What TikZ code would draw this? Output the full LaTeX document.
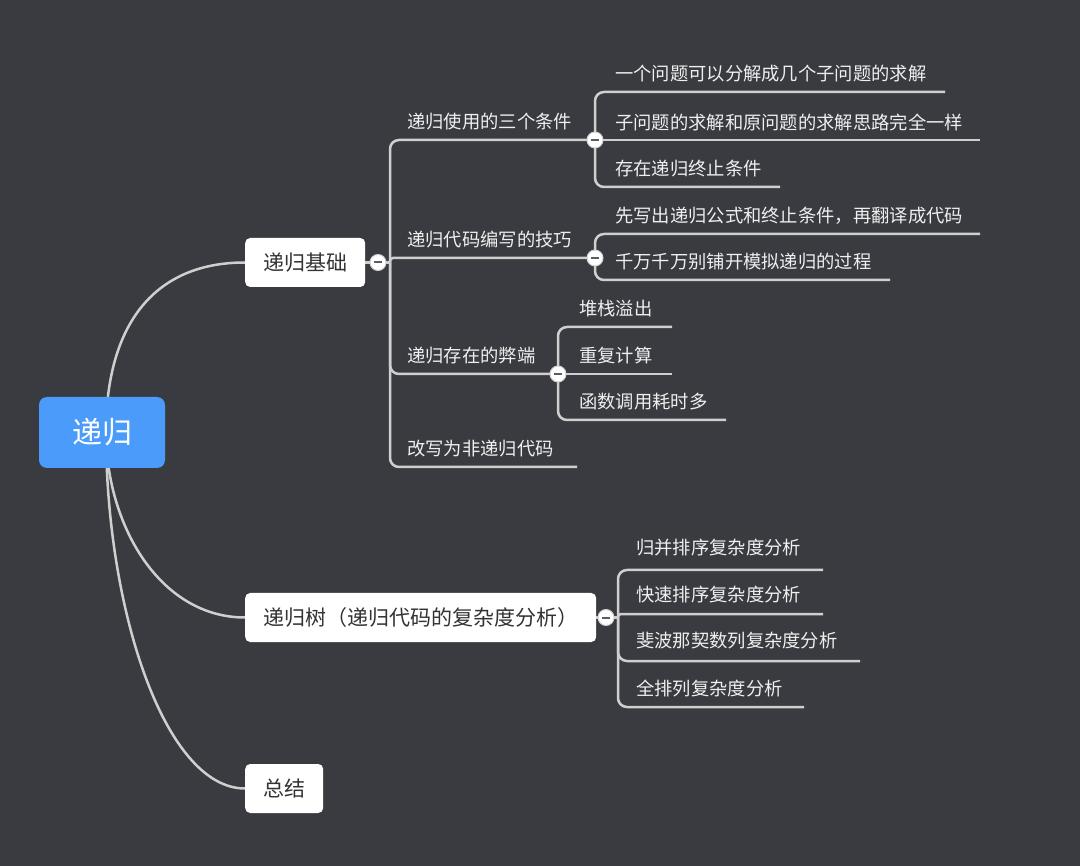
\documentclass[tikz,border=0pt]{standalone}
\usepackage{fontspec}
\setmainfont{Noto Sans CJK SC}
\definecolor{bg}{HTML}{393B40}
\definecolor{rootblue}{HTML}{4A9BFA}
\definecolor{linec}{HTML}{CFCFCF}
\definecolor{subtxt}{HTML}{EFEFEF}
\definecolor{maintxt}{HTML}{333333}
\definecolor{minusc}{HTML}{5A5C60}
\tikzset{
 conn/.style={draw=linec, line width=2.5pt},
 tline/.style={draw=linec, line width=2.5pt, rounded corners=9pt},
 rootbox/.style={fill=rootblue, rounded corners=8pt, minimum width=126pt, minimum height=71pt, text=white, font=\fontsize{30}{32}\selectfont, inner sep=0pt},
 mainbox/.style={fill=white, rounded corners=5pt, minimum height=49pt, text=maintxt, font=\fontsize{21}{23}\selectfont, anchor=west, inner ysep=0pt, inner xsep=18pt},
 leaf/.style={text=subtxt, font=\fontsize{18.3}{20}\selectfont, anchor=west, inner sep=0pt},
 fold/.style={circle, fill=white, draw=linec, line width=1pt, minimum size=16pt, inner sep=0pt},
 minus/.style={draw=minusc, line width=2pt},
}
\begin{document}
\begin{tikzpicture}[x=1pt,y=-1pt]
\fill[bg] (0,0) rectangle (1080,866);
\useasboundingbox (0,0) rectangle (1080,866);

% root and main topics
\coordinate (rs) at (106,432);
\coordinate (m1w) at (245,262.5);
\coordinate (m2w) at (245,617.5);
\coordinate (m3w) at (245,788.5);
\draw[conn] (rs) .. controls (106,330) and (150,262.5) .. (m1w);
\draw[conn] (rs) .. controls (106,525) and (160,617.5) .. (m2w);
\draw[conn] (rs) .. controls (106,610) and (165,788.5) .. (m3w);

\node[rootbox] (root) at (102,432.5) {递归};
\node[mainbox] (m1) at (m1w) {递归基础};
\node[mainbox] (m2) at (m2w) {递归树（递归代码的复杂度分析）};
\node[mainbox] (m3) at (m3w) {总结};

% ---------- branch 1 ----------
\coordinate (f1) at (378,262.5);
\coordinate (j1) at (390,262.5);
\coordinate (e11) at (595,140);
\coordinate (e12) at (595,258);
\coordinate (e13) at (558,374);
\coordinate (e14) at (577,467);
\draw[conn] (m1.east) -- (j1);
\draw[tline] (j1) |- (e11);
\draw[tline, rounded corners=3pt] (j1) |- (e12);
\draw[tline] (j1) |- (e13);
\draw[tline] (j1) |- (e14);
\node[leaf] (s11) at (407,122) {递归使用的三个条件};
\node[leaf] (s12) at (407,240) {递归代码编写的技巧};
\node[leaf] (s13) at (407,356) {递归存在的弊端};
\node[leaf] (s14) at (407,449) {改写为非递归代码};

% sub 1.1
\coordinate (e111) at (945,92);
\coordinate (e112) at (980,140);
\coordinate (e113) at (780,187);
\draw[tline] (e11) |- (e111);
\draw[conn] (e11) -- (e112);
\draw[tline] (e11) |- (e113);
\node[leaf] (t111) at (615,74) {一个问题可以分解成几个子问题的求解};
\node[leaf] (t112) at (615,122) {子问题的求解和原问题的求解思路完全一样};
\node[leaf] (t113) at (615,169) {存在递归终止条件};

% sub 1.2
\coordinate (e121) at (980,234);
\coordinate (e122) at (890,280);
\draw[tline] (e12) |- (e121);
\draw[tline] (e12) |- (e122);
\node[leaf] (t121) at (615,216) {先写出递归公式和终止条件，再翻译成代码};
\node[leaf] (t122) at (615,262) {千万千万别铺开模拟递归的过程};

% sub 1.3
\coordinate (e131) at (672,327);
\coordinate (e132) at (672,374);
\coordinate (e133) at (726,420);
\draw[tline] (e13) |- (e131);
\draw[conn] (e13) -- (e132);
\draw[tline] (e13) |- (e133);
\node[leaf] (t131) at (579,309) {堆栈溢出};
\node[leaf] (t132) at (579,356) {重复计算};
\node[leaf] (t133) at (579,402) {函数调用耗时多};

% ---------- branch 2 ----------
\coordinate (f2) at (606,617.5);
\coordinate (j2) at (618,617.5);
\coordinate (e21) at (823,570);
\coordinate (e22) at (823,614);
\coordinate (e23) at (860,661);
\coordinate (e24) at (804,707);
\draw[conn] (m2.east) -- (j2);
\draw[tline] (j2) |- (e21);
\draw[tline, rounded corners=3pt] (j2) |- (e22);
\draw[tline] (j2) |- (e23);
\draw[tline] (j2) |- (e24);
\node[leaf] (t21) at (636,548) {归并排序复杂度分析};
\node[leaf] (t22) at (636,595) {快速排序复杂度分析};
\node[leaf] (t23) at (636,641) {斐波那契数列复杂度分析};
\node[leaf] (t24) at (636,688) {全排列复杂度分析};

% fold circles
\foreach \c in {f1,e11,e12,e13,f2}{
  \node[fold] (k\c) at (\c) {};
  \draw[minus] ([xshift=-4pt]k\c.center) -- ([xshift=4pt]k\c.center);
}
\end{tikzpicture}
\end{document}
